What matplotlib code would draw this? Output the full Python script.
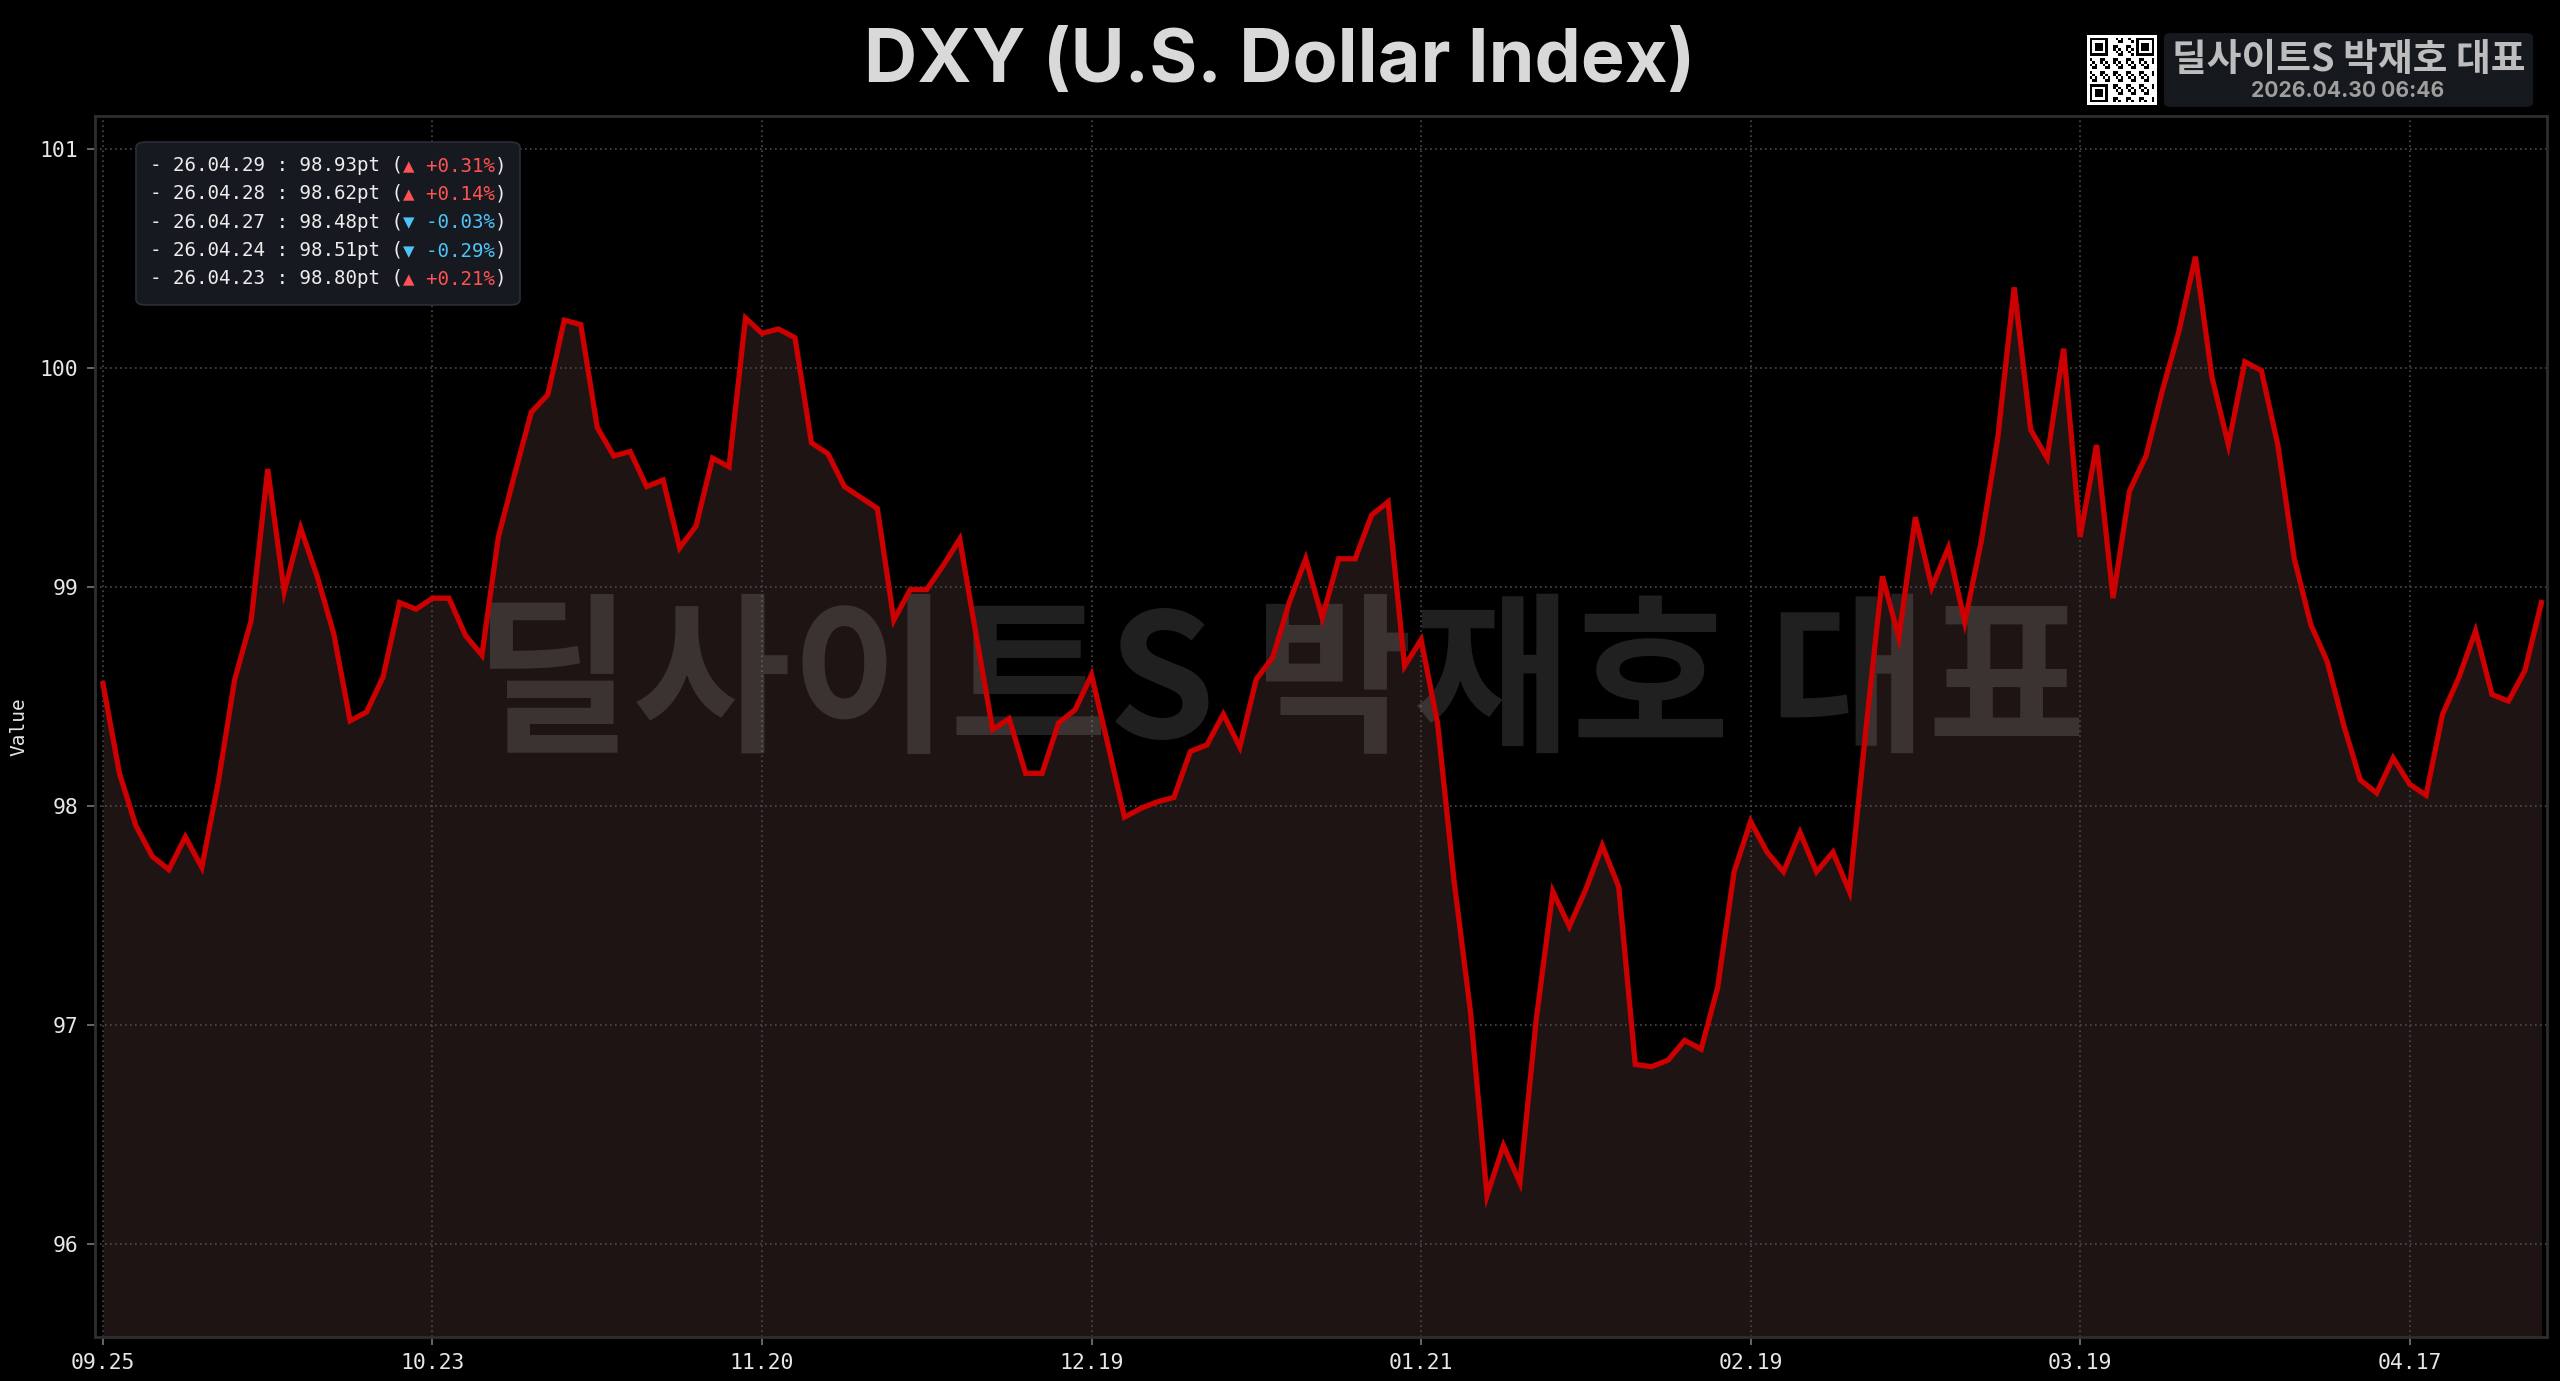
import numpy as np
import matplotlib
matplotlib.use('Agg')
import matplotlib.pyplot as plt
from matplotlib.patches import FancyBboxPatch
from matplotlib.ticker import MultipleLocator

# DXY closes, business days 2025-09-25 .. 2026-04-29
dxy = [
    98.56, 98.15, 97.91, 97.77, 97.71, 97.86, 97.72, 98.11, 98.58, 98.85,
    99.54, 98.98, 99.27, 99.05, 98.79, 98.39, 98.43, 98.59, 98.93, 98.90,
    98.95, 98.95, 98.78, 98.69, 99.23, 99.52, 99.80, 99.88, 100.22, 100.20,
    99.73, 99.60, 99.62, 99.46, 99.49, 99.18, 99.28, 99.59, 99.55, 100.23,
    100.16, 100.18, 100.14, 99.66, 99.61, 99.46, 99.41, 99.36, 98.85, 98.99,
    98.99, 99.10, 99.22, 98.78, 98.35, 98.40, 98.15, 98.15, 98.38, 98.44,
    98.60, 98.28, 97.95, 97.99, 98.02, 98.04, 98.25, 98.28, 98.42, 98.27,
    98.58, 98.68, 98.93, 99.13, 98.86, 99.13, 99.13, 99.33, 99.39, 98.64,
    98.76, 98.38, 97.66, 97.06, 96.22, 96.45, 96.28, 97.03, 97.61, 97.45,
    97.62, 97.82, 97.63, 96.82, 96.81, 96.84, 96.93, 96.89, 97.17, 97.70,
    97.93, 97.79, 97.70, 97.88, 97.70, 97.79, 97.61, 98.35, 99.05, 98.77,
    99.32, 99.00, 99.18, 98.84, 99.21, 99.68, 100.37, 99.72, 99.59, 100.09,
    99.23, 99.65, 98.95, 99.44, 99.60, 99.90, 100.17, 100.51, 99.96, 99.65,
    100.03, 99.99, 99.65, 99.13, 98.83, 98.66, 98.37, 98.12, 98.06, 98.22,
    98.10, 98.05, 98.42, 98.59, 98.80, 98.51, 98.48, 98.62, 98.93,
]
tick_labels = ['09.25', '10.23', '11.20', '12.19', '01.21', '02.19', '03.19', '04.17']
recent_dates = ['26.04.29', '26.04.28', '26.04.27', '26.04.24', '26.04.23']

title = 'DXY (U.S. Dollar Index)'
brand = '딜사이트S 박재호 대표'
stamp = '2026.04.30 06:46'

MONO = ['DejaVu Sans Mono', 'DejaVu Sans']
KR = ['Noto Sans CJK KR', 'DejaVu Sans']
UP, DOWN = '#ff5252', '#4fc3f7'

fig = plt.figure(figsize=(12.8, 6.905), dpi=200, facecolor='black')
ax = fig.add_axes([0.037, 0.0321, 0.958, 0.884])
ax.set_facecolor('black')

x = np.arange(len(dxy))
y = np.array(dxy)
lo, hi = y.min(), y.max()
pad = 0.15 * (hi - lo)
ax.set_ylim(lo - pad, hi + pad)
ax.set_xlim(-0.5, len(dxy) - 1 + 0.35)

ax.fill_between(x, y, lo - pad, color='#1f1414', lw=0, zorder=1)
ax.plot(x, y, color='#cc0000', lw=1.9, zorder=3, solid_joinstyle='miter')

ax.set_xticks(x[::20])
ax.set_xticklabels(tick_labels)
ax.yaxis.set_major_locator(MultipleLocator(1))
ax.grid(True, color='#4a4a4a', lw=0.6, ls=(0, (1, 2)))
ax.tick_params(colors='#e6e6e6', labelsize=7.7, length=3, width=0.6, pad=3)
ax.tick_params(axis='both', color='#777777')
for lab in ax.get_xticklabels() + ax.get_yticklabels():
    lab.set_family(MONO)
for sp in ax.spines.values():
    sp.set_color('#2e2e2e')
    sp.set_linewidth(1.0)

# watermark
ax.text(0.5, 0.502, brand, transform=fig.transFigure, ha='center', va='center',
        fontsize=62, fontweight='heavy', family=KR, color='white', alpha=0.13,
        zorder=2)

fig.text(0.0074, 1 - 727 / 1381, 'Value', rotation=90, ha='center', va='center',
         fontsize=7, family=MONO, color='#e6e6e6')

# title
fig.text(0.5, 1 - 62 / 1381, title, ha='center', va='center', fontsize=26.5,
         fontweight='bold', family=['Inter', 'DejaVu Sans'], color='#d9d9d9')

# recent values box (kept inside the axes so the texts stack above it)
ax.add_artist(FancyBboxPatch((136 / 2560, 1 - 305 / 1381), 384 / 2560, 163 / 1381,
                             boxstyle='round,pad=0,rounding_size=0.004',
                             transform=fig.transFigure, facecolor='#161a20',
                             edgecolor='#2a2e36', lw=0.6, zorder=5, clip_on=False))
for k, d in enumerate(recent_dates):
    i = len(dxy) - 1 - k
    v, prev = dxy[i], dxy[i - 1]
    chg = (v / prev - 1) * 100
    arrow, col = ('▲', UP) if chg >= 0 else ('▼', DOWN)
    yy = 1 - (165.7 + 28.2 * k) / 1381
    t1 = ax.text(150 / 2560, yy, f'- {d} : {v:.2f}pt (', transform=fig.transFigure,
                 ha='left', va='center', fontsize=6.9, family=MONO,
                 color='#ececec', zorder=6)
    t2 = ax.annotate(f'{arrow} {chg:+.2f}%', xy=(1, 0), xycoords=t1, ha='left',
                     va='bottom', fontsize=6.9, family=MONO, color=col,
                     zorder=6, annotation_clip=False)
    ax.annotate(')', xy=(1, 0), xycoords=t2, ha='left', va='bottom', fontsize=6.9,
                family=MONO, color='#ececec', zorder=6, annotation_clip=False)

# badge top right
fig.add_artist(FancyBboxPatch((2164 / 2560, 1 - 107 / 1381), 369 / 2560, 74 / 1381,
                              boxstyle='round,pad=0,rounding_size=0.003',
                              transform=fig.transFigure, facecolor='#15181d',
                              edgecolor='none', zorder=5))
fig.text(2349 / 2560, 1 - 60 / 1381, brand, ha='center', va='center', fontsize=13.6,
         fontweight='heavy', family=KR, color='#bdbdbd', zorder=6)
fig.text(2348 / 2560, 1 - 91 / 1381, stamp, ha='center', va='center', fontsize=7.6,
         fontweight='bold', family=['Inter', 'DejaVu Sans'], color='#9e9e9e', zorder=6)

# qr-like mark
n = 25
r, c = np.mgrid[0:n, 0:n]
qr = (((r * 7 + c * 13 + r * c) % 5) < 2).astype(float)
for (r0, c0) in [(0, 0), (0, n - 7), (n - 7, 0)]:
    blk = np.zeros((7, 7))
    blk[0, :] = blk[-1, :] = blk[:, 0] = blk[:, -1] = 1
    blk[2:5, 2:5] = 1
    qr[max(r0 - 1, 0):min(r0 + 8, n), max(c0 - 1, 0):min(c0 + 8, n)] = 0
    qr[r0:r0 + 7, c0:c0 + 7] = blk
qr = np.pad(qr, 1)
qax = fig.add_axes([2087 / 2560, 1 - 105 / 1381, 70 / 2560, 70 / 1381])
qax.imshow(1 - qr, cmap='gray', vmin=0, vmax=1, aspect='auto', interpolation='nearest')
qax.axis('off')

fig.savefig('out.png', dpi=200, facecolor='black')
